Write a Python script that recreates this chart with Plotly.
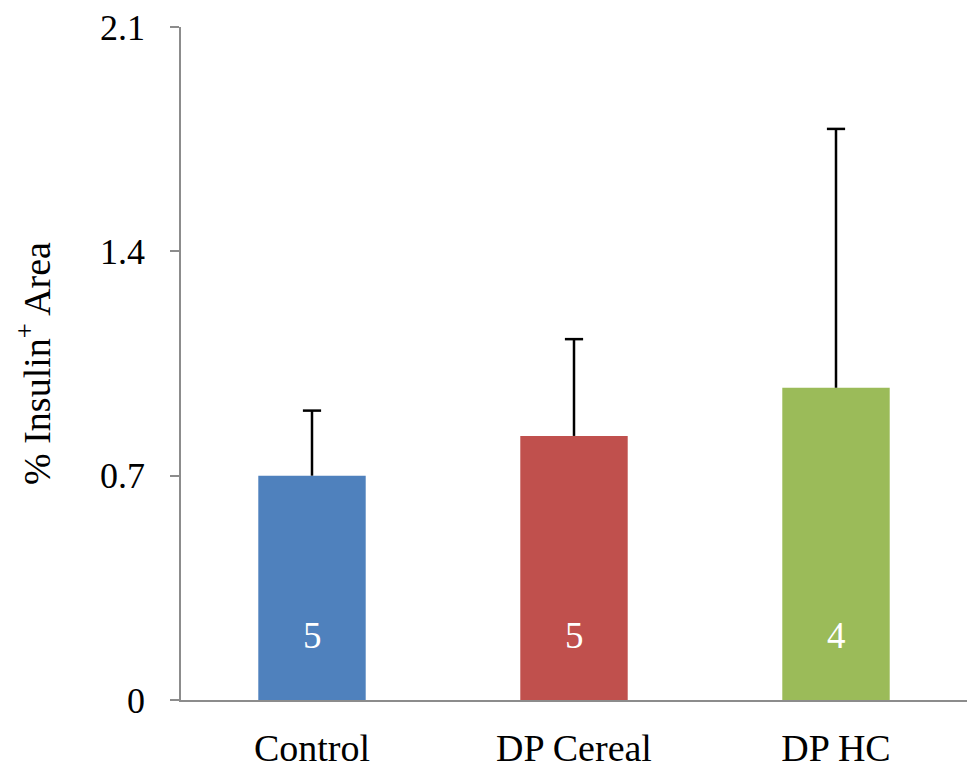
import plotly.graph_objects as go

# Insulin-positive area by diet group
groups = ["Control", "DP Cereal", "DP HC"]
mean_area = [0.70, 0.824, 0.974]
sem_area = [0.203, 0.302, 0.808]
n_animals = [5, 5, 4]
bar_colors = ["#4F81BD", "#C0504D", "#9BBB59"]
y_ticks = [0, 0.7, 1.4, 2.1]
y_tick_text = ["0", "0.7", "1.4", "2.1"]

serif = "Times New Roman, Liberation Serif, serif"

fig = go.Figure()
fig.add_trace(go.Bar(
    x=groups,
    y=mean_area,
    marker=dict(color=bar_colors, line=dict(width=0)),
    width=0.41,
    hoverinfo="skip",
))

# upper error whiskers: stem from bar top to mean + SEM, cap at the end
upper = [m + s for m, s in zip(mean_area, sem_area)]
for g, m, u in zip(groups, mean_area, upper):
    fig.add_trace(go.Scatter(
        x=[g, g], y=[m, u], mode="lines",
        line=dict(color="black", width=2.5),
        hoverinfo="skip",
    ))
fig.add_trace(go.Scatter(
    x=groups, y=upper, mode="markers",
    marker=dict(symbol="line-ew", size=13, line=dict(color="black", width=2.5)),
    hoverinfo="skip",
))

# group sizes written inside each bar
for g, n in zip(groups, n_animals):
    fig.add_annotation(
        x=g, y=0.2, text=str(n), showarrow=False,
        font=dict(family=serif, size=37, color="white"),
    )

fig.update_layout(
    width=974,
    height=768,
    margin=dict(l=181, r=7, t=27, b=68),
    paper_bgcolor="white",
    plot_bgcolor="white",
    showlegend=False,
    font=dict(family=serif, size=34, color="black"),
    xaxis=dict(
        showline=True,
        linecolor="#8C8C8C",
        linewidth=1.5,
        ticks="",
        showgrid=False,
        automargin=False,
        tickfont=dict(family=serif, size=38),
        ticklabelstandoff=14,
    ),
    yaxis=dict(
        range=[0, 2.1],
        tickvals=y_ticks,
        ticktext=y_tick_text,
        showline=True,
        linecolor="#8C8C8C",
        linewidth=1.5,
        ticks="outside",
        ticklen=9,
        tickwidth=1.5,
        tickcolor="#8C8C8C",
        showgrid=False,
        zeroline=False,
        automargin=False,
        tickfont=dict(family=serif, size=36),
        ticklabelstandoff=18,
        title=dict(
            text="% Insulin<sup>+</sup> Area",
            font=dict(family=serif, size=38),
            standoff=38,
        ),
    ),
)

fig.write_html("out.html")
